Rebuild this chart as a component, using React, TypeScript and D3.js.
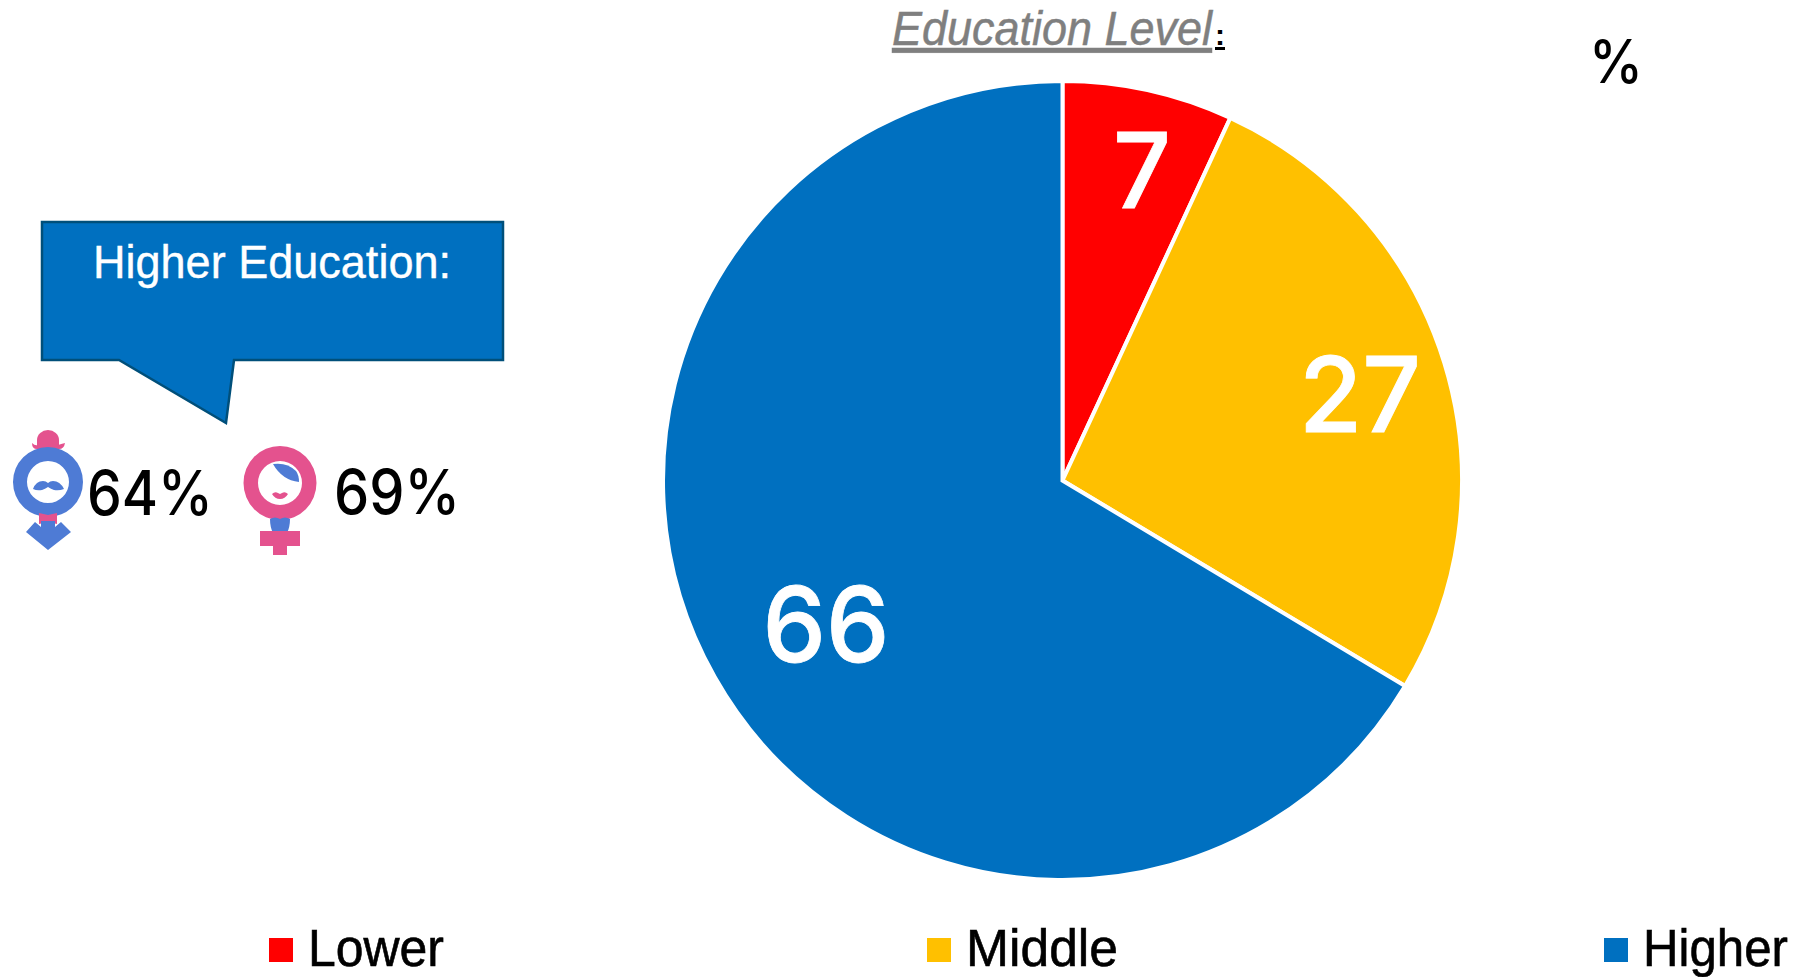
import React from "react";
import * as d3 from "d3";

const categories = ["Lower", "Middle", "Higher"];
const values = [6.9, 26.7, 66.4];
const valueLabels = ["7", "27", "66"];
const colors = ["#FF0000", "#FFC000", "#0070C0"];
const legendX = [269, 927, 1604];
const legendWidths = [136, 152, 145];
const labelPos = [[1142, 208], [1360, 432], [826, 662]];
const labelWidths = [58, 122, 127];
const callout = "Higher Education:";
const genderLabels = ["64%", "69%"];

const font = "'Liberation Sans', Arial, sans-serif";
const narrow = "'Liberation Sans Narrow', 'Liberation Sans', sans-serif";
const digits = "Inter, 'Liberation Sans', sans-serif";
const BLUE = "#4E7BD5";
const PINK = "#E4528E";

function Male() {
  return (
    <g>
      <path d="M37 446 v-6 a11 10 0 0 1 22 0 v6 z" fill={PINK} />
      <path d="M32 443 q3 3 6 2 h20 q3 -1 7 -2 q-1 6 -6 6 h-22 q-5 0 -5 -6z" fill={PINK} />
      <path fillRule="evenodd" fill={BLUE} d="M13 482a35 35 0 1 0 70 0a35 35 0 1 0 -70 0zM27 482a21 21 0 1 1 42 0a21 21 0 1 1 -42 0z" />
      <path d="M33 489 q3 -8 10 -8 q3 0 5 2 q2 -2 5 -2 q7 0 11 8 q-5 2 -10 1 q-3 -1 -6 -3 q-3 2 -6 3 q-5 1 -9 -1z" fill={BLUE} />
      <path d="M39 513 l9 2 l9 -2 v11 l-9 -2 l-9 2z" fill={PINK} />
      <path d="M26 532 l9 -10 l6 5 v-6 h14 v6 l6 -5 l10 10 l-23 18z" fill={BLUE} />
    </g>
  );
}

function Female() {
  return (
    <g>
      <path fillRule="evenodd" fill={PINK} d="M243.5 483a36.5 37 0 1 0 73 0a36.5 37 0 1 0 -73 0zM258 483a22 22 0 1 1 44 0a22 22 0 1 1 -44 0z" />
      <path d="M273 464 q14 -2 23 7 q3 4 3 11 q-17 -2 -26 -18z" fill={BLUE} />
      <path d="M272 494 q3 -3 6 -1 l2 1 l2 -1 q3 -2 6 1 q-3 5 -8 5 q-5 0 -8 -5z" fill={PINK} />
      <path d="M270 519 q5 -3 10 0 q5 -3 10 0 q0 8 -3 14 h-14 q-3 -6 -3 -14z" fill={BLUE} />
      <path d="M260 531 h40 v15 h-13 v9 h-14 v-9 h-13z" fill={PINK} />
    </g>
  );
}

export default function App() {
  const cx = 1062.5, cy = 480.5, r = 399.5;
  const pie = d3.pie<number>().sort(null)(values);
  const arc = d3.arc<d3.PieArcDatum<number>>().innerRadius(0).outerRadius(r);
  return (
    <svg width={1797} height={977} style={{ position: "absolute", left: 0, top: 0, background: "#fff" }}>
      <text x={892} y={45} fontFamily={narrow} fontStyle="italic" fontSize={48} fill="#7F7F7F" stroke="#7F7F7F" strokeWidth={0.5} textDecoration="underline" textLength={320} lengthAdjust="spacingAndGlyphs">Education Level</text>
      <text x={1215} y={45} fontFamily={font} fontWeight="bold" fontSize={30} fill="#000" textDecoration="underline">:</text>
      <text x={1589} y={83} fontFamily={digits} fontWeight={500} fontSize={60} fill="#000" textLength={54} lengthAdjust="spacingAndGlyphs">%</text>

      <g transform={`translate(${cx},${cy})`}>
        {pie.map((d, i) => (
          <path key={categories[i]} d={arc(d) || ""} fill={colors[i]} stroke="#fff" strokeWidth={4} />
        ))}
      </g>
      {pie.map((d, i) => (
        <text key={i} x={labelPos[i][0] - labelWidths[i] / 2} y={labelPos[i][1]} fontFamily={digits} fontWeight={500} fontSize={105} fill="#fff" stroke="#fff" strokeWidth={0.8} textLength={labelWidths[i]} lengthAdjust="spacingAndGlyphs">{valueLabels[i]}</text>
      ))}

      <path d="M42 222 H503 V360 H234 L226 423 L119 360 H42 Z" fill="#0070C0" stroke="#004F7A" strokeWidth={2.5} />
      <text x={93} y={278} fontFamily={narrow} fontSize={47} fill="#fff" stroke="#fff" strokeWidth={0.4} textLength={358} lengthAdjust="spacingAndGlyphs">{callout}</text>

      <Male />
      <Female />
      <text x={87} y={515} fontFamily={digits} fontWeight={500} fontSize={62} fill="#000" textLength={126} lengthAdjust="spacingAndGlyphs">{genderLabels[0]}</text>
      <text x={334} y={514} fontFamily={digits} fontWeight={500} fontSize={62} fill="#000" textLength={126} lengthAdjust="spacingAndGlyphs">{genderLabels[1]}</text>

      {categories.map((c, i) => (
        <g key={c}>
          <rect x={legendX[i]} y={938} width={24} height={24} fill={colors[i]} />
          <text x={legendX[i] + 39} y={966} fontFamily={narrow} fontSize={51} fill="#000" stroke="#000" strokeWidth={0.6} textLength={legendWidths[i]} lengthAdjust="spacingAndGlyphs">{c}</text>
        </g>
      ))}
    </svg>
  );
}
